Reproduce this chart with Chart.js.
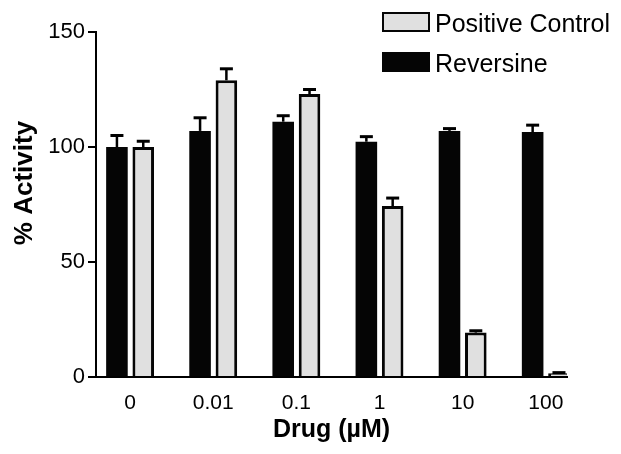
<!DOCTYPE html>
<html><head><meta charset="utf-8">
<script src="https://cdn.jsdelivr.net/npm/chart.js@4/dist/chart.umd.min.js"></script>
<style>
html,body{margin:0;padding:0;background:#fff;}
#wrap{position:relative;width:621px;height:454px;}
#legend{position:absolute;left:382px;top:8px;font-family:"Liberation Sans",Arial,sans-serif;font-size:25px;color:#000;}
.item{display:flex;align-items:flex-start;height:40px;line-height:30px;white-space:nowrap;}
.box{box-sizing:border-box;width:48px;height:20px;margin-top:4px;margin-right:5px;}
</style></head><body>
<div id="wrap"><canvas id="c" width="621" height="454"></canvas><div id="legend"></div></div>
<script>
const categories = ['0', '0.01', '0.1', '1', '10', '100'];
const reversine = [100, 107, 111, 102.3, 107, 106.5];
const reversineErr = [5, 5.7, 2.6, 2.2, 1, 3];
const positiveControl = [100, 129, 123, 74.3, 19.3, 1.6];
const positiveControlErr = [2.5, 5, 2, 3.5, 0.8, 0.3];
const yTicks = [0, 50, 100, 150];

Chart.defaults.font.family = '"Liberation Sans", Arial, sans-serif';
Chart.defaults.color = '#000';

const errorBars = {
  id: 'errorBars',
  afterDatasetsDraw(chart) {
    const ctx = chart.ctx, ys = chart.scales.y;
    chart.data.datasets.forEach((ds, i) => {
      const meta = chart.getDatasetMeta(i);
      meta.data.forEach((bar, j) => {
        const v = ds.data[j].y, e = ds.errors[j];
        const top = ys.getPixelForValue(v + e);
        ctx.save();
        ctx.strokeStyle = '#000';
        ctx.lineWidth = 2.5;
        ctx.beginPath(); ctx.moveTo(bar.x, bar.y); ctx.lineTo(bar.x, top); ctx.stroke();
        ctx.lineWidth = 3;
        ctx.beginPath(); ctx.moveTo(bar.x - 6.5, top); ctx.lineTo(bar.x + 6.5, top); ctx.stroke();
        ctx.restore();
      });
    });
  }
};

const yTitle = {
  id: 'yTitle',
  afterDraw(chart) {
    const ctx = chart.ctx;
    ctx.save();
    ctx.translate(25, 183);
    ctx.rotate(-Math.PI / 2);
    ctx.font = 'bold 26px "Liberation Sans", Arial, sans-serif';
    ctx.fillStyle = '#000';
    ctx.textAlign = 'center';
    ctx.textBaseline = 'middle';
    ctx.fillText('% Activity', 0, 0);
    ctx.restore();
  }
};

const chart = new Chart(document.getElementById('c'), {
  type: 'bar',
  data: {
    datasets: [
      {
        label: 'Reversine',
        data: reversine.map((v, i) => ({x: i, y: v})),
        errors: reversineErr,
        backgroundColor: '#050505',
        borderColor: '#050505',
        borderWidth: 0,
        categoryPercentage: 0.633,
        barPercentage: 0.82
      },
      {
        label: 'Positive Control',
        data: positiveControl.map((v, i) => ({x: i, y: v})),
        errors: positiveControlErr,
        backgroundColor: '#e0e0e0',
        borderColor: '#050505',
        borderWidth: 3,
        categoryPercentage: 0.633,
        barPercentage: 0.82
      }
    ]
  },
  options: {
    responsive: false,
    animation: false,
    layout: {padding: {left: 10, top: 32, right: 54, bottom: 0}},
    plugins: {legend: {display: false}, tooltip: {enabled: false}},
    scales: {
      x: {
        type: 'linear', min: -0.41, max: 5.255, offset: false,
        grid: {display: false, drawTicks: false},
        border: {display: true, color: '#000', width: 2},
        afterBuildTicks: (s) => { s.ticks = categories.map((_, i) => ({value: i})); },
        ticks: {callback: (v) => categories[v], font: {size: 21}, padding: 14, maxRotation: 0, autoSkip: false},
        title: {display: true, text: 'Drug (µM)', font: {size: 25, weight: 'bold'}, padding: {top: 0, bottom: 9}},
        afterFit: (s) => { s.height = 77; }
      },
      y: {
        min: 0, max: 150,
        afterBuildTicks: (s) => { s.ticks = yTicks.map(v => ({value: v})); },
        grid: {drawOnChartArea: false, drawTicks: true, tickLength: 8, color: '#000', lineWidth: 2},
        border: {display: true, color: '#000', width: 2},
        ticks: {font: {size: 22}, padding: 3},
        afterFit: (s) => { s.width = 86; }
      }
    }
  },
  plugins: [errorBars, yTitle]
});

const legend = document.getElementById('legend');
chart.data.datasets.slice().reverse().forEach(ds => {
  const item = document.createElement('div');
  item.className = 'item';
  const box = document.createElement('span');
  box.className = 'box';
  box.style.background = ds.backgroundColor;
  box.style.border = '2px solid ' + ds.borderColor;
  const txt = document.createElement('span');
  txt.textContent = ds.label;
  item.appendChild(box);
  item.appendChild(txt);
  legend.appendChild(item);
});
</script>
</body></html>
